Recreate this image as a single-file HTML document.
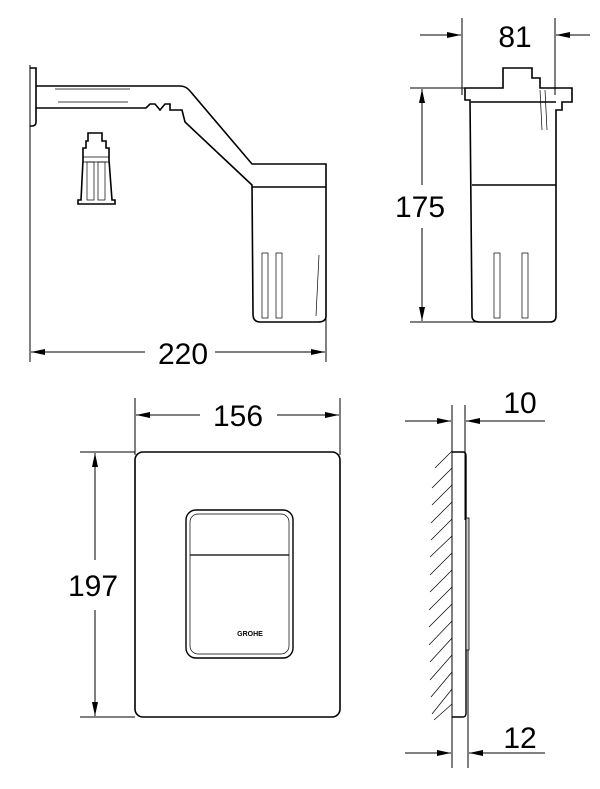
<!DOCTYPE html>
<html><head><meta charset="utf-8"><style>
html,body{margin:0;padding:0;background:#fff}
svg{display:block}
text{font-family:"Liberation Sans",sans-serif;font-size:30px;fill:#000}
</style></head><body>
<svg width="600" height="789" viewBox="0 0 600 789" xmlns="http://www.w3.org/2000/svg">
<defs>
<marker id="a" viewBox="0 0 14 6" refX="14" refY="3" markerWidth="14" markerHeight="6" orient="auto-start-reverse" markerUnits="userSpaceOnUse"><path d="M0,0L14,3L0,6z" fill="#000"/></marker>
</defs>
<g fill="none" stroke="#000" stroke-width="1">
<line x1="30" y1="65" x2="30" y2="362"/>
<line x1="326" y1="300" x2="326" y2="362"/>
<line x1="31" y1="352" x2="145" y2="352" marker-start="url(#a)"/>
<line x1="215" y1="352" x2="325" y2="352" marker-end="url(#a)"/>
<g stroke-width="1.6">
<path d="M30,68 L36,68 L36,122 Q36,126 32,126 L30,126"/>
<path d="M36,86 L180,86 Q186,86 190,91 L252,164 L326,164 L326,316 Q326,322 318,322 L260,322 Q253,322 253,314 L252,185 L185,122 L182,110 L170,110 L170,104 L165,104 L160,110 L155,104 L150,104 L146,108 L36,108"/>
<line x1="252" y1="187" x2="326" y2="187"/>
<path d="M88,133 L102,133 L102,141 L106,141 L106,148 L109,148 L109,160 L112,200 L115,200 L115,204 L78,204 L78,200 L81,200 L83,160 L83,148 L86,148 L86,141 L88,141 Z"/>
</g>
<g stroke-width="0.7">
<line x1="55" y1="89" x2="130" y2="89"/><line x1="58" y1="102" x2="128" y2="102"/>
<line x1="83" y1="157" x2="109" y2="157"/><line x1="83" y1="162" x2="109" y2="162"/>
<rect x="87" y="162" width="7" height="38"/><rect x="98" y="162" width="7" height="38"/>
<rect x="262" y="253" width="6" height="65"/><rect x="276" y="253" width="6" height="65"/><line x1="319" y1="255" x2="316" y2="316"/>
</g>
<line x1="462" y1="18" x2="462" y2="95"/>
<line x1="555" y1="18" x2="555" y2="95"/>
<line x1="420" y1="35" x2="461" y2="35" marker-end="url(#a)"/>
<line x1="556" y1="35" x2="590" y2="35" marker-start="url(#a)"/>
<line x1="410" y1="88" x2="470" y2="88"/>
<line x1="410" y1="322" x2="480" y2="322"/>
<line x1="422" y1="89" x2="422" y2="185" marker-start="url(#a)"/>
<line x1="422" y1="228" x2="422" y2="321" marker-end="url(#a)"/>
<g stroke-width="1.6">
<path d="M465,88 L503,88 L503,68 L532,68 L532,78 L540,78 L540,88 L572,88 L572,102 L562,102 L562,110 L556,110 L556,316 Q556,322 550,322 L480,322 Q472,322 472,316 L470,100 L465,100 Z"/>
<line x1="471" y1="102" x2="556" y2="102"/>
<line x1="472" y1="185" x2="556" y2="185"/>
</g>
<g stroke-width="0.7">
<rect x="494" y="253" width="6" height="65"/><rect x="522" y="253" width="6" height="65"/><line x1="540" y1="90" x2="542" y2="130"/><line x1="545" y1="90" x2="547" y2="130"/>
</g>
<line x1="135" y1="398" x2="135" y2="455"/>
<line x1="340" y1="398" x2="340" y2="455"/>
<line x1="136" y1="415" x2="200" y2="415" marker-start="url(#a)"/>
<line x1="277" y1="415" x2="339" y2="415" marker-end="url(#a)"/>
<line x1="80" y1="452" x2="135" y2="452"/>
<line x1="80" y1="717" x2="135" y2="717"/>
<line x1="95" y1="453" x2="95" y2="560" marker-start="url(#a)"/>
<line x1="95" y1="610" x2="95" y2="716" marker-end="url(#a)"/>
<rect x="135" y="452" width="205" height="265" rx="8" stroke-width="1.6"/>
<rect x="186" y="510" width="107" height="148" rx="10" stroke-width="1.4"/>
<rect x="190" y="514" width="99" height="140" rx="8" stroke-width="0.7"/>
<line x1="190" y1="555" x2="289" y2="555" stroke-width="1.2"/>
<line x1="452" y1="405" x2="452" y2="768"/>
<line x1="465" y1="405" x2="465" y2="520"/>
<line x1="468" y1="650" x2="468" y2="768"/>
<line x1="405" y1="421" x2="451" y2="421" marker-end="url(#a)"/>
<line x1="466" y1="421" x2="545" y2="421" marker-start="url(#a)"/>
<line x1="405" y1="753" x2="451" y2="753" marker-end="url(#a)"/>
<line x1="469" y1="753" x2="545" y2="753" marker-start="url(#a)"/>
<path d="M452,452 L463,452 Q466,452 466,456 L466,713 Q466,717 463,717 L452,717" stroke-width="1.4"/>
<rect x="466" y="518" width="3" height="132" stroke-width="0.8" fill="#ccc"/>
<g stroke-width="0.7">
<line x1="435" y1="468" x2="452" y2="451"/><line x1="432" y1="488" x2="452" y2="468"/><line x1="432" y1="505" x2="452" y2="485"/><line x1="431" y1="523" x2="452" y2="502"/><line x1="431" y1="540" x2="452" y2="519"/><line x1="430" y1="557" x2="452" y2="536"/><line x1="430" y1="575" x2="452" y2="553"/><line x1="430" y1="592" x2="452" y2="570"/><line x1="429" y1="610" x2="452" y2="587"/><line x1="429" y1="627" x2="452" y2="604"/><line x1="429" y1="645" x2="452" y2="621"/><line x1="430" y1="662" x2="452" y2="638"/><line x1="430" y1="680" x2="452" y2="655"/><line x1="431" y1="697" x2="452" y2="672"/><line x1="432" y1="714" x2="452" y2="689"/><line x1="434" y1="720" x2="452" y2="704"/>
</g>
</g>
<text x="183" y="364" text-anchor="middle">220</text>
<text x="515" y="47" text-anchor="middle">81</text>
<text x="420" y="217" text-anchor="middle">175</text>
<text x="238" y="426" text-anchor="middle">156</text>
<text x="93" y="596" text-anchor="middle">197</text>
<text x="520" y="413" text-anchor="middle">10</text>
<text x="520" y="748" text-anchor="middle">12</text>
<text x="250" y="636" text-anchor="middle" style="font-size:7px;font-weight:bold">GROHE</text>
</svg>
</body></html>
